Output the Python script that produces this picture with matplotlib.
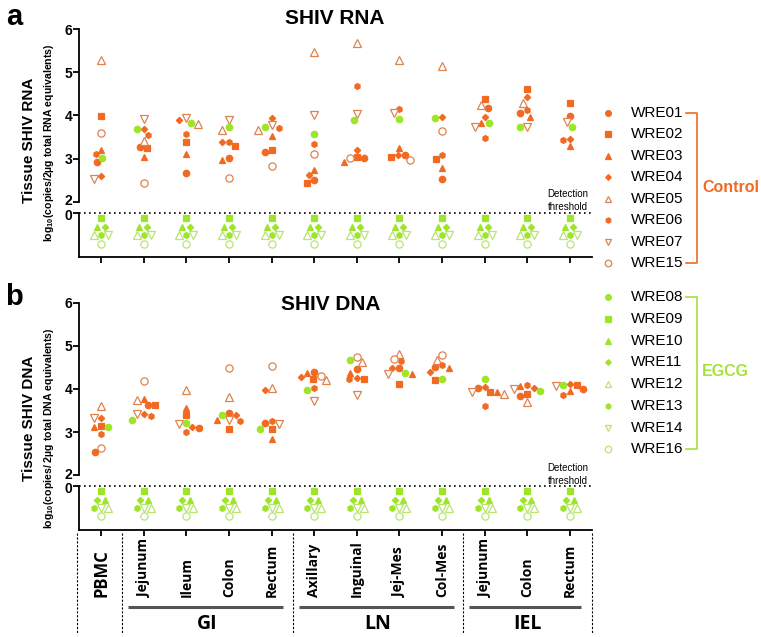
import numpy as np
import matplotlib
matplotlib.use('Agg')
from matplotlib import pyplot as plt
from matplotlib import transforms

plt.rcParams['font.family'] = ['Liberation Sans', 'DejaVu Sans']
plt.rcParams['mathtext.fontset'] = 'custom'
plt.rcParams['mathtext.rm'] = 'Liberation Sans'
plt.rcParams['mathtext.bf'] = 'Liberation Sans:bold'

nan = np.nan

tissues = ['PBMC', 'Jejunum', 'Ileum', 'Colon', 'Rectum', 'Axillary', 'Inguinal',
           'Jej-Mes', 'Col-Mes', 'Jejunum', 'Colon', 'Rectum']
group_names = ['GI', 'LN', 'IEL']
group_members = [[1, 2, 3, 4], [5, 6, 7, 8], [9, 10, 11]]

control_ids = ['WRE01', 'WRE02', 'WRE03', 'WRE04', 'WRE05', 'WRE06', 'WRE07', 'WRE15']
egcg_ids = ['WRE08', 'WRE09', 'WRE10', 'WRE11', 'WRE12', 'WRE13', 'WRE14', 'WRE16']

# log10 values; 0 = below detection threshold, nan = not measured
undetected = [0, 0, 0, 0, 0, 0, 0, 0, 0, 0, 0, 0]

# SHIV RNA
rna_wre01 = [2.91, 3.26, 2.67, 3.01, 3.16, 2.50, 3.01, 3.08, 2.52, 4.18, 4.06, 3.99]
rna_wre02 = [3.99, 3.25, 3.38, 3.30, 3.20, 2.44, 3.04, 3.04, 2.98, 4.38, 4.62, 4.30]
rna_wre03 = [3.21, 3.03, 3.11, 2.97, 3.52, 2.74, 2.93, 3.25, 2.79, 3.82, 3.97, 3.29]
rna_wre04 = [2.59, 3.68, 3.89, 3.38, 3.94, 2.63, 3.21, 3.09, 3.97, 3.96, 4.42, 3.46]
rna_wre05 = [5.29, 3.40, 3.80, 3.66, 3.66, 5.48, 5.68, 5.29, 5.15, 4.24, 4.28, nan]
rna_wre06 = [3.10, 3.55, 3.56, 3.39, 3.72, 3.35, 4.68, 4.16, 3.08, 3.48, 4.12, 3.43]
rna_wre07 = [2.53, 3.93, 3.95, 3.90, 3.77, 4.00, 4.04, 4.05, nan, 3.73, 3.73, 3.84]
rna_wre15 = [3.59, 2.44, nan, 2.56, 2.83, 3.11, 3.02, 2.96, 3.65, nan, nan, nan]
rna_wre08 = [3.02, 3.68, 3.83, 3.73, 3.73, 3.56, 3.89, 3.91, 3.95, 3.82, 3.73, 3.73]

# SHIV DNA
dna_wre01 = [2.54, 3.62, 3.10, 3.45, 3.21, 4.39, 4.46, 4.48, 4.51, 4.02, 3.83, 4.00]
dna_wre02 = [3.14, 3.62, 3.39, 3.06, 3.08, 4.23, 4.24, 4.11, 4.20, 3.92, 3.89, 4.09]
dna_wre03 = [3.12, 3.76, 3.56, 3.28, 2.84, 4.38, 4.38, 4.34, 4.48, 3.92, 4.07, 3.94]
dna_wre04 = [3.32, 3.42, 3.11, 3.39, 3.97, 4.28, 4.25, 4.48, 4.40, 4.04, 4.02, 4.12]
dna_wre05 = [3.60, 3.74, 3.97, 3.81, 4.01, 4.20, 4.62, 4.82, 4.67, 3.89, 3.69, nan]
dna_wre06 = [2.95, 3.38, 3.01, 3.26, 3.25, 4.01, 4.22, 4.65, 4.55, 3.61, 4.10, 3.86]
dna_wre07 = [3.32, 3.41, 3.18, 3.28, 3.19, 3.72, 3.86, 4.34, nan, 3.92, 4.00, 4.07]
dna_wre15 = [2.62, 4.19, nan, 4.49, 4.53, 4.31, 4.73, 4.70, 4.79, nan, nan, nan]
dna_wre08 = [3.12, 3.29, 3.21, 3.40, 3.08, 3.98, 4.68, 4.37, 4.24, 4.23, 3.95, 4.10]

rna = {'WRE01': rna_wre01, 'WRE02': rna_wre02, 'WRE03': rna_wre03, 'WRE04': rna_wre04,
       'WRE05': rna_wre05, 'WRE06': rna_wre06, 'WRE07': rna_wre07, 'WRE15': rna_wre15,
       'WRE08': rna_wre08}
dna = {'WRE01': dna_wre01, 'WRE02': dna_wre02, 'WRE03': dna_wre03, 'WRE04': dna_wre04,
       'WRE05': dna_wre05, 'WRE06': dna_wre06, 'WRE07': dna_wre07, 'WRE15': dna_wre15,
       'WRE08': dna_wre08}
for a in egcg_ids[1:]:
    rna[a] = undetected
    dna[a] = undetected

# ---- styles ----
ORANGE = '#F26A22'
ORANGE_OPEN = '#DE8250'
GREEN = '#9EE52A'
GREEN_OPEN = '#B8E470'

shapes = [('o', True, 4.6), ('s', True, 4.2), ('^', True, 4.8), ('D', True, 3.2),
          ('^', False, 5.2), ('h', True, 4.2), ('v', False, 5.2), ('o', False, 5.2)]


def style_of(animal):
    if animal in control_ids:
        m, filled, ms = shapes[control_ids.index(animal)]
        col = ORANGE if filled else ORANGE_OPEN
    else:
        m, filled, ms = shapes[egcg_ids.index(animal)]
        col = GREEN if filled else GREEN_OPEN
    return dict(marker=m, ms=ms, mec=col, mew=0.9,
                mfc=col if filled else 'white', linestyle='none')


# offsets (px) of undetected markers below the threshold line
blq_a = {'WRE09': (0, -5.5), 'WRE10': (-4.5, -14), 'WRE11': (3.5, -14),
         'WRE12': (-7, -22.5), 'WRE13': (0, -22.5), 'WRE14': (7, -22.5), 'WRE16': (0, -31)}
blq_b = {'WRE09': (0, -5), 'WRE11': (-4, -13.5), 'WRE10': (4, -13.5),
         'WRE13': (-7, -21.5), 'WRE14': (0, -21.5), 'WRE12': (7, -21.5), 'WRE16': (0, -29.5)}

W, H = 761, 637
fig = plt.figure(figsize=(W / 100, H / 100), dpi=100)


def rect(x0, x1, ytop, ybot):
    return [x0 / W, 1 - ybot / H, (x1 - x0) / W, (ybot - ytop) / H]


def swarm(ys, min_d=7.0):
    order = np.argsort(-ys)
    cands = sorted(np.arange(-24, 24.5, 0.5), key=abs)
    placed = []
    offs = np.zeros(len(ys))
    for i in order:
        for dx in cands:
            if all((dx - px) ** 2 + (ys[i] - py) ** 2 >= min_d ** 2 for px, py in placed):
                break
        offs[i] = dx
        placed.append((dx, ys[i]))
    return offs


def draw_panel(top, data, blq):
    # top: pixel y of the "6" tick
    up = fig.add_axes(rect(79, 592, top, top + 172.4))
    lo_top = top + 183.4
    lo_h = 43.8
    lo = fig.add_axes(rect(79, 592, lo_top, lo_top + lo_h))
    xl = (-0.52, len(tissues) - 0.48)
    for ax in (up, lo):
        ax.set_xlim(*xl)
        ax.patch.set_alpha(0)
        for s in ('top', 'right'):
            ax.spines[s].set_visible(False)
        ax.spines['left'].set_linewidth(1.3)
        ax.tick_params(axis='y', width=1.3, length=4, pad=1)
    up.spines['bottom'].set_visible(False)
    up.set_ylim(2, 6)
    up.set_yticks([2, 3, 4, 5, 6])
    up.set_yticklabels(['2', '3', '4', '5', '6'], fontweight='bold', fontsize=10)
    # nudge the "2" up a little so it clears the "0" of the lower band
    lab2 = up.get_yticklabels()[0]
    lab2.set_transform(lab2.get_transform() +
                       transforms.ScaledTranslation(0, 1.5 / 72, fig.dpi_scale_trans))
    up.set_xticks([])
    lo.set_ylim(-lo_h, 0)
    lo.set_yticks([0])
    lo.set_yticklabels(['0'], fontweight='bold', fontsize=10)
    lab0 = lo.get_yticklabels()[0]
    lab0.set_transform(lab0.get_transform() +
                       transforms.ScaledTranslation(0, -1.0 / 72, fig.dpi_scale_trans))
    lo.spines['bottom'].set_linewidth(1.3)
    lo.set_xticks(range(len(tissues)))
    lo.set_xticklabels([])
    lo.tick_params(axis='x', width=1.3, length=4)
    lo.axhline(0, color='black', lw=1.2, ls=(0, (1, 2)), clip_on=False)

    px_per_x = up.transData.transform((1, 2))[0] - up.transData.transform((0, 2))[0]
    px_per_y = up.transData.transform((0, 3))[1] - up.transData.transform((0, 2))[1]
    animals = control_ids + egcg_ids
    for i in range(len(tissues)):
        pts = [(a, data[a][i]) for a in animals
               if a in data and not np.isnan(data[a][i]) and data[a][i] > 0]
        ys = np.array([v for _, v in pts]) * px_per_y
        offs = swarm(ys)
        for (a, v), dx in zip(pts, offs):
            up.plot(i + dx / px_per_x, v, **style_of(a))
        for a in animals:
            if a in data and data[a][i] == 0:
                dx, dy = blq.get(a, (0, -5))
                lo.plot(i + dx / px_per_x, dy, clip_on=False, **style_of(a))
    return up, lo


up_a, lo_a = draw_panel(29.3, rna, blq_a)
up_b, lo_b = draw_panel(302.7, dna, blq_b)

# overlay in pixel coordinates for annotations
ov = fig.add_axes([0, 0, 1, 1])
ov.set_xlim(0, W)
ov.set_ylim(H, 0)
ov.axis('off')
ov.patch.set_alpha(0)

ov.text(14, 17, 'a', fontsize=21, fontweight='bold', ha='center', va='center')
ov.text(14, 297, 'b', fontsize=21, fontweight='bold', ha='center', va='center')
ov.text(335, 18, 'SHIV RNA', fontsize=15, fontweight='bold', ha='center', va='center')
ov.text(331, 304, 'SHIV DNA', fontsize=15, fontweight='bold', ha='center', va='center')

ov.text(29, 140, 'Tissue SHIV RNA', rotation=90, fontsize=11, fontweight='bold',
        ha='center', va='center')
ov.text(49, 143, r'log$_{\mathbf{10}}$(copies/2µg total RNA equivalents)', rotation=90,
        fontsize=7.6, fontweight='bold', ha='center', va='center')
ov.text(29, 418, 'Tissue SHIV DNA', rotation=90, fontsize=11, fontweight='bold',
        ha='center', va='center')
ov.text(49, 428, r'log$_{\mathbf{10}}$(copies/ 2µg total DNA equivalents)', rotation=90,
        fontsize=7.6, fontweight='bold', ha='center', va='center')

for yc in (200.5, 474.5):
    ov.text(588, yc, 'Detection\nthreshold', fontsize=7, ha='right', va='center',
            linespacing=1.4)

# legend
for ids, y0, step, col, name, ylab in [(control_ids, 112.7, 21.5, ORANGE, 'Control', 188),
                                        (egcg_ids, 297.3, 21.7, '#A6E23C', 'EGCG', 372)]:
    for k, a in enumerate(ids):
        y = y0 + k * step
        st = style_of(a)
        st['ms'] = st['ms'] * 0.9
        ov.plot(608, y, **st)
        ov.text(631, y, a, fontsize=11, ha='left', va='center')
    yl = y0 + (len(ids) - 1) * step
    ov.plot([686, 697, 697, 686], [y0, y0, yl, yl], color=col, lw=1.2)
    ov.text(702, ylab, name, fontsize=11.5, fontweight='bold', color=col,
            ha='left', va='center')

# category axis decorations below panel b
def xpix(x):
    return lo_b.transData.transform((x, 0))[0]

xl0, xl1 = lo_b.get_xlim()
for xs in [xl0, 0.5, 4.5, 8.5, xl1]:
    xp = xpix(xs) - (2 if xs == xl0 else 0)
    ov.plot([xp, xp], [533, 633], color='black', lw=0.8, ls=(0, (2, 1.5)))

for i, t in enumerate(tissues):
    ov.text(xpix(i), 597, t, rotation=90, fontsize=12 if i == 0 else 10,
            fontweight='bold', family='Open Sans', ha='center', va='bottom')

for name, mem in zip(group_names, group_members):
    x0 = xpix(mem[0] - 0.36)
    x1 = xpix(mem[-1] + 0.27)
    ov.plot([x0, x1], [606.5, 606.5], color='#555555', lw=2.2, solid_capstyle='butt')
    ov.text(xpix(np.mean(mem)), 624, name, fontsize=14, fontweight='bold',
            family='Open Sans', ha='center', va='center')

fig.savefig('out.png', dpi=100)
